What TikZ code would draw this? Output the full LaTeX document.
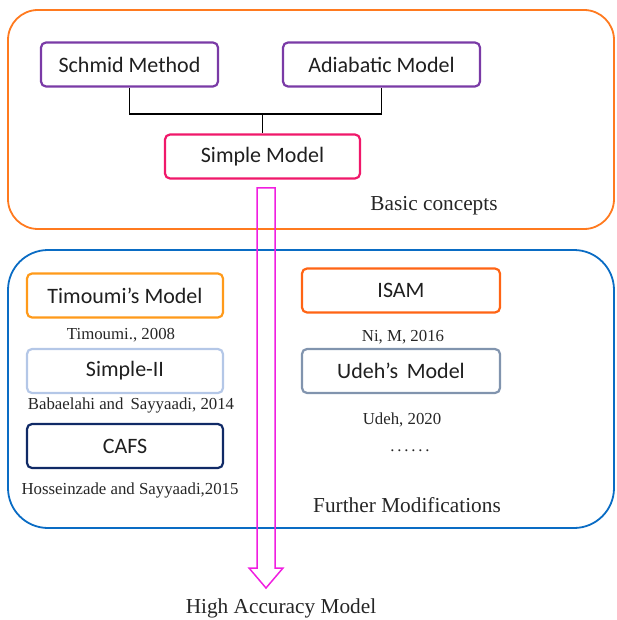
\documentclass[tikz,border=0pt]{standalone}
\usepackage{fontspec}
\setmainfont{Liberation Serif}
\newfontfamily\boxfont{Carlito}
\usetikzlibrary{calc}
\definecolor{orgA}{HTML}{FF7A1F}
\definecolor{orgB}{HTML}{FF9A1A}
\definecolor{orgC}{HTML}{FF6414}
\definecolor{purp}{HTML}{7A3AA6}
\definecolor{crim}{HTML}{F0186A}
\definecolor{mag}{HTML}{F01EE0}
\definecolor{ltbl}{HTML}{B4C7E7}
\definecolor{navy}{HTML}{102A66}
\definecolor{gybl}{HTML}{8194AE}
\definecolor{blu}{HTML}{0A6CC4}
\tikzset{
  bx/.style={draw=#1,rounded corners=5pt,line width=2.2pt,minimum height=44pt,
    inner sep=0pt,font=\boxfont\fontsize{22}{26}\selectfont,text=black!88},
  grp/.style={rounded corners=#1,line width=1.8pt},
  ref/.style={font=\fontsize{16.8}{19}\selectfont,text=black!85},
  ttl/.style={font=\fontsize{21.3}{24}\selectfont,text=black!85},
}
\begin{document}
\begin{tikzpicture}[x=1pt,y=-1pt]
\useasboundingbox (0,0) rectangle (617,620);
\draw[grp=30pt,orgA] (8,10) rectangle (614,229);
\draw[grp=40pt,blu] (8,250) rectangle (614,528);
% basic concepts
\node[bx=purp,minimum width=177pt] (sm) at (129.5,64.5){Schmid Method};
\node[bx=purp,minimum width=197pt] (ad) at (381.5,64.5){Adiabatic Model};
\node[bx=crim,minimum width=195pt] (si) at (262.5,156.5){Simple Model};
\coordinate (j) at (262.5,114);
\draw[line width=1.3pt] (sm.south) |- (j) -| (ad.south); \draw[line width=1.3pt] (j)--(si.north);
\node[ttl] (bc) at (434,206){Basic concepts};
% further modifications
\node[bx=orgB,minimum width=196pt] (ti) at (125,295.5){Timoumi’s Model};
\node[ref] (tiR) at (121,335){Timoumi., 2008};
\node[bx=ltbl,minimum width=196pt] (s2) at (125,371){Simple-II};
\node[ref] (s2R) at (131,405){Babaelahi and\, Sayyaadi, 2014};
\node[bx=navy,minimum width=196pt] (ca) at (125,446){CAFS};
\node[ref] (caR) at (130,490){Hosseinzade and Sayyaadi,2015};
\node[bx=orgC,minimum width=198pt] (is) at (401,290.5){ISAM};
\node[ref] (isR) at (403,337){Ni, M, 2016};
\node[bx=gybl,minimum width=198pt] (ud) at (401,371){Udeh’s\, Model};
\node[ref] (udR) at (402,420){Udeh, 2020};
\node[ref] (dots) at (410,451){.\,.\,.\,.\,.\,.};
\node[ttl] (fm) at (407,505){Further Modifications};
% result
\node[ttl] (hi) at (281,608){High Accuracy Model};
\coordinate (a0) at (266,188); \coordinate (a1) at (266,588);
\draw[mag,line width=1.5pt,line join=miter] ($(a0)+(-9,0)$) -- ($(a1)+(-9,-20)$) -- ($(a1)+(-17,-20)$)
  -- (a1) -- ($(a1)+(17,-20)$) -- ($(a1)+(9,-20)$) -- ($(a0)+(9,0)$) -- cycle;
\end{tikzpicture}
\end{document}
